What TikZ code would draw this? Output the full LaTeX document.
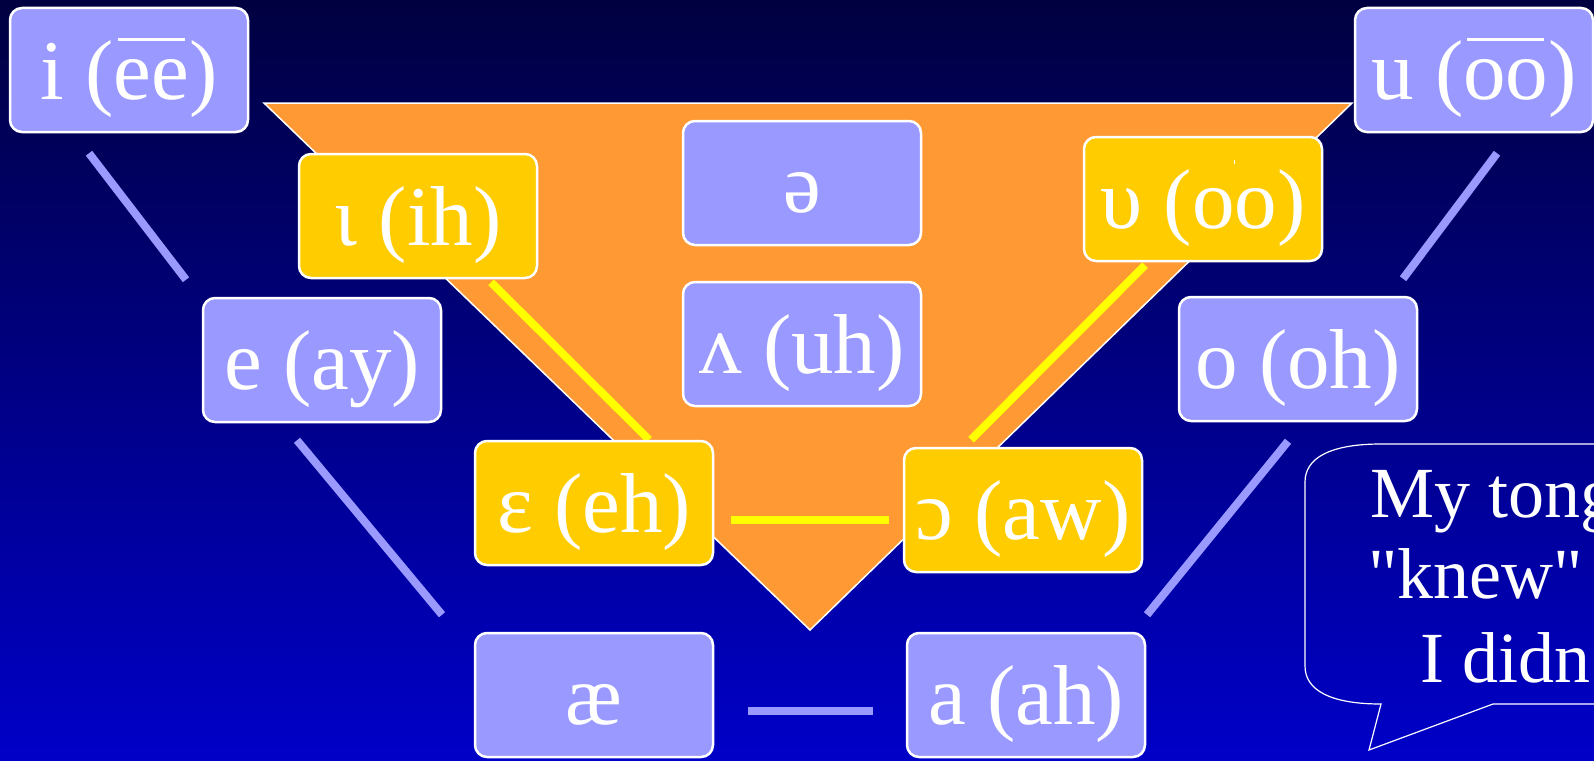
\documentclass[tikz,border=0pt]{standalone}
\usepackage{fontspec}
\setmainfont{Liberation Serif}
\newfontfamily\rawserif{Liberation Serif}[Ligatures=TeXOff]
\definecolor{lav}{HTML}{9999FF}
\definecolor{gold}{HTML}{FFCC00}
\definecolor{orng}{HTML}{FF9933}
\definecolor{ylw}{HTML}{FFFF00}
\definecolor{bgtop}{HTML}{000040}
\definecolor{bgbot}{HTML}{0000C8}
\pgfdeclarelayer{back}
\pgfdeclarelayer{mid}
\pgfsetlayers{back,mid,main}
\newcommand\ovl[1]{\setbox0\hbox{#1}\rlap{\kern4pt\raisebox{58pt}{\rule{\dimexpr\wd0-8pt\relax}{3pt}}}\box0}
\newcommand\dotover[1]{\setbox0\hbox{#1}\rlap{\kern\dimexpr0.5\wd0-1pt\relax\raisebox{64pt}{\rule{1.5pt}{4pt}}}\box0}
\begin{document}
\begin{tikzpicture}[x=1pt,y=-1pt,
  vbox/.style={draw=white, line width=2.5pt, rounded corners=12pt, minimum width=238pt, minimum height=124pt, text height=70pt, text depth=12pt, inner sep=0pt, text=white, font=\fontsize{85}{100}\selectfont},
  lavbox/.style={vbox, fill=lav},
  goldbox/.style={vbox, fill=gold},
  bline/.style={draw=lav, line width=8pt},
  yline/.style={draw=ylw, line width=8pt},
  btext/.style={text=white, anchor=base west, inner sep=0pt, font=\rawserif\fontsize{72}{80}\selectfont}]
\useasboundingbox (0,0) rectangle (1594,760);
\clip (0,0) rectangle (1594,760);
\begin{pgfonlayer}{back}
\shade[top color=bgtop, bottom color=bgbot] (0,0) rectangle (1594,760);
\draw[fill=orng, draw=white, line width=1.5pt, line join=miter] (264,103) -- (1352,103) -- (810,630) -- cycle;
\end{pgfonlayer}
% boxes
\node[lavbox] (i) at (129,70) {i (\ovl{ee})};
\node[lavbox] (u) at (1474,70) {u (\ovl{oo})};
\node[goldbox] (ih) at (418,216) {ι (ih)};
\node[lavbox] (schwa) at (802,183) {ə};
\node[lavbox] (uh) at (802,344) {ʌ (uh)};
\node[goldbox] (uu) at (1203,199) {υ (\dotover{oo})};
\node[lavbox] (e) at (322,360) {e (ay)};
\node[lavbox] (o) at (1298,359) {o (oh)};
\node[goldbox] (eh) at (594,503) {ɛ (eh)};
\node[goldbox] (aw) at (1023,510) {ɔ (aw)};
\node[lavbox] (ae) at (594,695) {æ};
\node[lavbox] (a) at (1026,695) {a (ah)};
% connectors
\begin{pgfonlayer}{mid}
\draw[bline] ([shift={(-40,20)}]i.south) -- ([shift={(-136,-17)}]e.north);
\draw[bline] ([shift={(-25,17)}]e.south) -- ([shift={(-152,-17)}]ae.north);
\draw[bline] ([shift={(23,20)}]u.south) -- ([shift={(105,-17)}]o.north);
\draw[bline] ([shift={(-10,19)}]o.south) -- ([shift={(121,-17)}]a.north);
\draw[bline] ([shift={(34,16)}]ae.east) -- ([shift={(-33,16)}]a.west);
\draw[yline] ([shift={(73,3)}]ih.south) -- ([shift={(55,0)}]eh.north);
\draw[yline] ([shift={(-58,3)}]uu.south) -- ([shift={(-52,-7)}]aw.north);
\draw[yline] ([shift={(17,17)}]eh.east) -- ([shift={(-14,10)}]aw.west);
\end{pgfonlayer}
% speech bubble
\draw[white, line width=1.2pt, line join=miter]
  (1640,704) -- (1493,704) -- (1369,750) -- (1381,704)
  .. controls (1330,704) and (1305,690) .. (1305,666)
  -- (1305,482) .. controls (1305,458) and (1330,444) .. (1381,444)
  -- (1640,444);
\node[btext] (b1) at (1370,517) {My tong};
\node[btext] (b2) at (1368,598) {"knew"};
\node[btext] (b3) at (1420,682) {I didn};
\end{tikzpicture}
\end{document}
